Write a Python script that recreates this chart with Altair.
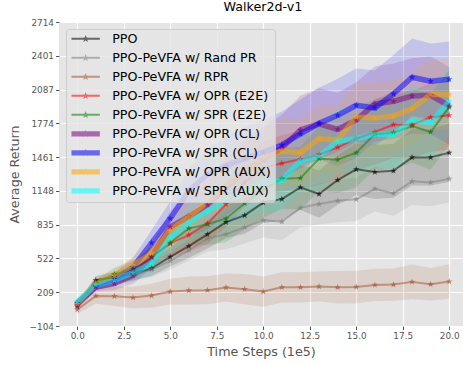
import math
import altair as alt
import pandas as pd

# ---------------- data ----------------
steps = list(range(21))
x_ticks = [0, 2.5, 5, 7.5, 10, 12.5, 15, 17.5, 20]
y_ticks = [-104, 209, 522, 835, 1148, 1461, 1774, 2087, 2401, 2714]

names = ["PPO", "PPO-PeVFA w/ Rand PR", "PPO-PeVFA w/ RPR",
         "PPO-PeVFA w/ OPR (E2E)", "PPO-PeVFA w/ SPR (E2E)",
         "PPO-PeVFA w/ OPR (CL)", "PPO-PeVFA w/ SPR (CL)",
         "PPO-PeVFA w/ OPR (AUX)", "PPO-PeVFA w/ SPR (AUX)"]

ppo = [75, 320, 350, 380, 429, 537, 636, 745, 859, 921, 1040, 1072, 1181, 1119, 1249, 1348, 1323, 1335, 1459, 1459, 1502]
rand_pr = [110, 290, 330, 370, 420, 500, 600, 707, 747, 810, 877, 862, 992, 1026, 1057, 1070, 1168, 1125, 1237, 1227, 1261]
rpr = [48, 175, 172, 160, 178, 215, 225, 228, 253, 237, 215, 255, 255, 262, 255, 258, 277, 280, 305, 283, 308]
opr_e2e = [90, 265, 330, 400, 540, 660, 740, 845, 1025, 1230, 1360, 1404, 1441, 1484, 1552, 1632, 1694, 1762, 1762, 1831, 1849]
spr_e2e = [105, 290, 376, 420, 531, 667, 800, 840, 893, 1032, 1160, 1261, 1267, 1447, 1438, 1502, 1676, 1688, 1750, 1694, 1924]
opr_cl = [95, 258, 290, 367, 540, 815, 910, 1020, 1180, 1330, 1440, 1545, 1713, 1769, 1719, 1806, 1954, 1979, 2028, 2035, 1936]
spr_cl = [110, 270, 330, 440, 667, 893, 1150, 1300, 1380, 1450, 1505, 1574, 1676, 1775, 1849, 1942, 1917, 2047, 2202, 2165, 2183]
opr_aux = [100, 290, 360, 460, 568, 780, 908, 1050, 1200, 1330, 1450, 1521, 1502, 1632, 1620, 1831, 1824, 1843, 1911, 2041, 2041]
spr_aux = [120, 274, 320, 388, 475, 717, 855, 960, 1060, 1150, 1230, 1245, 1428, 1471, 1608, 1632, 1676, 1669, 1800, 1781, 1979]

std_ppo = [30, 40, 50, 60, 70, 90, 110, 130, 150, 170, 190, 200, 210, 220, 230, 240, 250, 250, 260, 260, 270]
std_rand_pr = [30, 40, 50, 60, 70, 80, 100, 120, 140, 150, 160, 170, 180, 190, 200, 200, 210, 210, 220, 220, 220]
std_rpr = [40, 70, 90, 100, 110, 120, 130, 130, 130, 140, 140, 140, 140, 140, 150, 150, 150, 150, 160, 150, 160]
std_opr_e2e = [30, 40, 60, 80, 100, 130, 160, 190, 210, 230, 250, 260, 270, 280, 290, 300, 300, 310, 310, 320, 320]
std_spr_e2e = [30, 40, 60, 80, 100, 130, 160, 190, 220, 240, 260, 280, 290, 300, 310, 320, 330, 340, 340, 350, 350]
std_opr_cl = [30, 40, 60, 80, 110, 150, 190, 230, 260, 290, 300, 310, 320, 330, 340, 350, 350, 350, 350, 360, 360]
std_spr_cl = [30, 40, 60, 90, 120, 160, 200, 240, 270, 290, 300, 310, 320, 330, 340, 340, 350, 360, 360, 350, 350]
std_opr_aux = [30, 40, 60, 80, 110, 140, 180, 220, 250, 270, 290, 300, 310, 310, 320, 320, 330, 330, 330, 330, 330]
std_spr_aux = [30, 40, 60, 80, 100, 130, 170, 200, 230, 250, 270, 280, 290, 300, 300, 310, 310, 320, 320, 320, 320]

means = [ppo, rand_pr, rpr, opr_e2e, spr_e2e, opr_cl, spr_cl, opr_aux, spr_aux]
stds = [std_ppo, std_rand_pr, std_rpr, std_opr_e2e, std_spr_e2e, std_opr_cl, std_spr_cl, std_opr_aux, std_spr_aux]

# ---------------- styles ----------------
colors = ["black", "gray", "sienna", "red", "green", "purple", "blue", "orange", "cyan"]
line_widths = [2, 2, 2, 2, 2, 5.5, 5.5, 5.5, 5.5]
FONT = "DejaVu Sans"


def star(cx, cy, r_out, r_in):
    pts = []
    for k in range(10):
        r = r_out if k % 2 == 0 else r_in
        a = -math.pi / 2 + k * math.pi / 5
        pts.append(f"{cx + r * math.cos(a):.3f},{cy + r * math.sin(a):.3f}")
    return "M" + " L".join(pts) + " Z"


marker_path = star(0, 0, 1, 0.4)


def legend_path(half):
    # 1 unit = 4px (symbolSize 64); line from -1.1 to 6.0 units, star at 2.45
    line = f"M-1.1,{-half} L6.0,{-half} L6.0,{half} L-1.1,{half} Z "
    return line + star(2.45, 0, 0.95, 0.4)


legend_paths = [legend_path(0.25 if w < 3 else 0.65) for w in line_widths]

rows = []
for n, m, s, w in zip(names, means, stds, line_widths):
    for t, v, d in zip(steps, m, s):
        rows.append({"series": n, "t": t, "mean": v, "lower": v - d, "upper": v + d, "lw": w})
df = pd.DataFrame(rows)

color_scale = alt.Scale(domain=names, range=colors)
xs = alt.Scale(domain=[-0.98, 20.74], nice=False, zero=False)
ys = alt.Scale(domain=[-104, 2714], nice=False, zero=False)

x_enc = alt.X("t:Q", scale=xs, axis=alt.Axis(
    values=x_ticks, format=".1f", title="Time Steps (1e5)",
    grid=True, gridColor="white", gridWidth=1.2, domain=False,
    tickColor="#555555", tickSize=3.5, tickWidth=1,
    labelColor="#555555", labelFontSize=8.9, labelFont=FONT, labelPadding=2,
    titleFont=FONT, titleFontSize=12.7, titleColor="#555555",
    titleFontWeight="normal", titlePadding=5))
y_axis = alt.Axis(
    values=y_ticks, format="d", title="Average Return",
    grid=True, gridColor="white", gridWidth=1.2, domain=False,
    tickColor="#555555", tickSize=3.5, tickWidth=1,
    labelColor="#555555", labelFontSize=8.9, labelFont=FONT, labelPadding=2,
    titleFont=FONT, titleFontSize=12.7, titleColor="#555555",
    titleFontWeight="normal", titlePadding=8)

base = alt.Chart(df)

leg = alt.Legend(title=None, symbolSize=64, labelOffset=30, padding=3.5, rowPadding=5)
legend_layer = base.mark_point(filled=True, opacity=0.55).encode(
    x=x_enc,
    y=alt.Y("mean:Q", scale=ys, axis=y_axis),
    color=alt.Color("series:N", scale=color_scale, legend=leg),
    shape=alt.Shape("series:N", scale=alt.Scale(domain=names, range=legend_paths), legend=leg),
).transform_filter("false")

bands = base.mark_area(opacity=0.14).encode(
    x=x_enc,
    y=alt.Y("lower:Q", scale=ys, axis=y_axis),
    y2="upper:Q",
    color=alt.Color("series:N", scale=color_scale, legend=None),
    detail="series:N",
)

lines = base.mark_line(opacity=0.5, strokeJoin="round").encode(
    x=x_enc,
    y=alt.Y("mean:Q", scale=ys, axis=y_axis),
    color=alt.Color("series:N", scale=color_scale, legend=None),
    strokeWidth=alt.StrokeWidth("lw:Q", scale=None, legend=None),
    detail="series:N",
)

points = base.mark_point(filled=True, shape=marker_path, size=49, opacity=0.6).encode(
    x=x_enc,
    y=alt.Y("mean:Q", scale=ys, axis=y_axis),
    color=alt.Color("series:N", scale=color_scale, legend=None),
)

chart = alt.layer(legend_layer, bands, lines, points).properties(
    width=404, height=304,
    autosize=alt.AutoSizeParams(type="none"),
    padding={"left": 59, "top": 22, "right": 0, "bottom": 39},
    title=alt.TitleParams("Walker2d-v1", font=FONT, fontSize=12.7, fontWeight="normal",
                          color="black", offset=4, anchor="middle", dx=2),
).configure_view(fill="#E5E5E5", stroke=None).configure_legend(
    orient="none", legendX=7, legendY=7,
    fillColor="rgba(229,229,229,0.8)", strokeColor="#cccccc", cornerRadius=3,
    symbolStrokeWidth=0, labelFont=FONT, labelFontSize=12.7, labelColor="black",
    labelLimit=300,
)

chart.save("out.html", embed_options={"renderer": "svg", "actions": False})
